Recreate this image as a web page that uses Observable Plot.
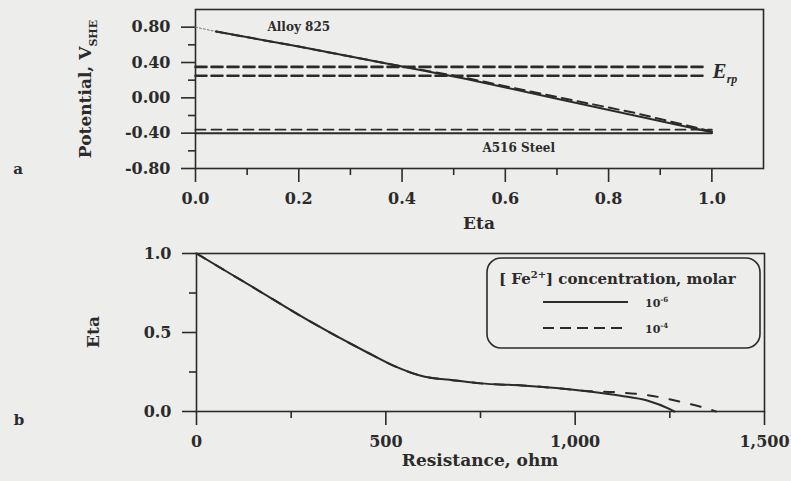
<!DOCTYPE html>
<html>
<head>
<meta charset="utf-8">
<script src="https://cdn.jsdelivr.net/npm/d3@7"></script>
<script src="https://cdn.jsdelivr.net/npm/@observablehq/plot@0.6"></script>
<style>
  html, body { margin: 0; padding: 0; background: #ededeb; }
  #wrap { position: relative; width: 791px; height: 481px; overflow: hidden; }
  #wrap > svg { position: absolute; left: 0; }
</style>
</head>
<body>
<div id="wrap"></div>
<script>
// ---------- Panel a: Potential vs Eta ----------
const etaAlloy        = [0.04, 0.20, 0.36, 0.52, 0.70, 0.85, 1.00];
const potAlloySolid   = [0.75, 0.58, 0.40, 0.22, -0.01, -0.20, -0.39];
const potAlloyDashed  = [0.75, 0.58, 0.40, 0.23, 0.01, -0.17, -0.38];
const etaLead         = [0.00, 0.04];
const potLead         = [0.80, 0.75];
const etaErp          = [0.00, 0.985];
const potErpUpper     = 0.35;
const potErpLower     = 0.25;
const etaSteel        = [0.00, 1.00];
const potSteelDashed  = -0.36;
const potSteelSolid   = -0.40;
const etaMajorTicks   = [0, 0.2, 0.4, 0.6, 0.8, 1.0];
const etaMinorTicks   = [0.1, 0.3, 0.5, 0.7, 0.9];
const potMajorTicks   = [-0.8, -0.4, 0, 0.4, 0.8];
const potMinorTicks   = [-0.6, -0.2, 0.2, 0.6];
const labelsA         = ["Alloy 825", "A516 Steel"];
const labelEtaA       = [0.20, 0.626];
const labelPotA       = [0.80, -0.57];

// ---------- Panel b: Eta vs Resistance ----------
const resSolid   = [0, 150, 300, 450, 520, 590, 690, 750, 860, 950, 1030, 1120, 1190, 1250, 1262];
const etaSolid   = [1.0, 0.785, 0.57, 0.375, 0.29, 0.228, 0.195, 0.178, 0.165, 0.148, 0.128, 0.10, 0.07, 0.015, 0];
const resDashed  = [0, 150, 300, 450, 520, 590, 690, 750, 860, 950, 1030, 1110, 1200, 1280, 1360, 1372];
const etaDashed  = [1.0, 0.785, 0.57, 0.375, 0.29, 0.228, 0.195, 0.178, 0.165, 0.148, 0.13, 0.122, 0.10, 0.06, 0.01, 0];
const resMajorTicks = [0, 500, 1000, 1500];
const resMinorTicks = [250, 750, 1250];
const etaBMajorTicks = [0, 0.5, 1.0];
const etaBMinorTicks = [0.25, 0.75];
const legendLabels = ["10", "10"];
const legendExps   = ["-6", "-4"];

const ink = "#2b2b2b";
const baseStyle = {
  background: "transparent",
  fontFamily: "DejaVu Serif",
  fontWeight: "bold",
  fontSize: "16px",
  color: ink,
  overflow: "visible"
};

const zip = (xs, ys) => xs.map((x, i) => ({x, y: ys[i]}));
const flat = (xs, v) => xs.map(x => ({x, y: v}));

const chartA = Plot.plot({
  width: 791, height: 240,
  marginLeft: 195, marginRight: 28, marginTop: 9, marginBottom: 72,
  x: {domain: [0, 1.1]},
  y: {domain: [-0.8, 1.0]},
  style: baseStyle,
  marks: [
    Plot.frame({stroke: ink, strokeWidth: 1.6}),
    Plot.axisX(etaMajorTicks, {tickSize: 14, tickPadding: 10, tickFormat: d => d.toFixed(1), label: null, stroke: ink, strokeWidth: 1.6}),
    Plot.axisX(etaMinorTicks, {tickSize: 7, tickFormat: () => "", label: null, stroke: ink, strokeWidth: 1.6}),
    Plot.axisY(potMajorTicks, {tickSize: 14, tickPadding: 11, tickFormat: d => d.toFixed(2), label: null, stroke: ink, strokeWidth: 1.6}),
    Plot.axisY(potMinorTicks, {tickSize: 7, tickFormat: () => "", label: null, stroke: ink, strokeWidth: 1.6}),
    Plot.line(zip(etaLead, potLead), {x: "x", y: "y", stroke: "#777", strokeWidth: 1, strokeDasharray: "2,2"}),
    Plot.line(flat(etaErp, potErpUpper), {x: "x", y: "y", stroke: ink, strokeWidth: 2.6, strokeDasharray: "11,5"}),
    Plot.line(flat(etaErp, potErpLower), {x: "x", y: "y", stroke: ink, strokeWidth: 2.6, strokeDasharray: "11,5"}),
    Plot.line(flat(etaSteel, potSteelDashed), {x: "x", y: "y", stroke: ink, strokeWidth: 1.8, strokeDasharray: "10,6"}),
    Plot.line(flat(etaSteel, potSteelSolid), {x: "x", y: "y", stroke: ink, strokeWidth: 2}),
    Plot.line(zip(etaAlloy, potAlloyDashed), {x: "x", y: "y", stroke: ink, strokeWidth: 2, strokeDasharray: "10,6"}),
    Plot.line(zip(etaAlloy, potAlloySolid), {x: "x", y: "y", stroke: ink, strokeWidth: 2}),
    Plot.text(labelsA.map((t, i) => ({t, x: labelEtaA[i], y: labelPotA[i]})), {x: "x", y: "y", text: "t", fontSize: 12, fontWeight: "bold", fill: ink})
  ]
});

const chartB = Plot.plot({
  width: 791, height: 241,
  marginLeft: 196, marginRight: 27, marginTop: 13, marginBottom: 70,
  x: {domain: [0, 1500]},
  y: {domain: [0, 1]},
  style: baseStyle,
  marks: [
    Plot.frame({stroke: ink, strokeWidth: 1.6}),
    Plot.axisX(resMajorTicks, {tickSize: 14, tickPadding: 10, tickFormat: d3.format(","), label: null, stroke: ink, strokeWidth: 1.6}),
    Plot.axisX(resMinorTicks, {tickSize: 7, tickFormat: () => "", label: null, stroke: ink, strokeWidth: 1.6}),
    Plot.axisY(etaBMajorTicks, {tickSize: 14, tickPadding: 11, tickFormat: d => d.toFixed(1), label: null, stroke: ink, strokeWidth: 1.6}),
    Plot.axisY(etaBMinorTicks, {tickSize: 7, tickFormat: () => "", label: null, stroke: ink, strokeWidth: 1.6}),
    Plot.line(zip(resDashed, etaDashed), {x: "x", y: "y", stroke: ink, strokeWidth: 2, strokeDasharray: "10,12", curve: "monotone-x"}),
    Plot.line(zip(resSolid, etaSolid), {x: "x", y: "y", stroke: ink, strokeWidth: 2, curve: "monotone-x"})
  ]
});

const wrap = document.getElementById("wrap");
chartA.style.top = "0px";
chartB.style.top = "240px";
wrap.appendChild(chartA);
wrap.appendChild(chartB);

// ---------- overlay: titles, panel letters, E_rp, legend ----------
const ov = d3.select(wrap).append("svg")
  .attr("width", 791).attr("height", 481)
  .style("top", "0px")
  .attr("font-family", "DejaVu Serif")
  .attr("font-weight", "bold")
  .attr("fill", ink);

// panel letters
ov.append("text").attr("x", 18).attr("y", 174).attr("text-anchor", "middle").attr("font-size", 15).text("a");
ov.append("text").attr("x", 19).attr("y", 425).attr("text-anchor", "middle").attr("font-size", 15).text("b");

// y title panel a
const ty = ov.append("text").attr("transform", "translate(91,89) rotate(-90)").attr("text-anchor", "middle").attr("font-size", 17);
ty.append("tspan").text("Potential, V");
ty.append("tspan").attr("font-size", 11).attr("dy", 6).text("SHE");

// x title panel a
ov.append("text").attr("x", 479).attr("y", 229).attr("text-anchor", "middle").attr("font-size", 17).text("Eta");

// y title panel b
ov.append("text").attr("transform", "translate(99,332) rotate(-90)").attr("text-anchor", "middle").attr("font-size", 17).text("Eta");

// x title panel b
ov.append("text").attr("x", 480).attr("y", 466).attr("text-anchor", "middle").attr("font-size", 17).text("Resistance, ohm");

// E_rp label next to the Erp lines
const sxA = chartA.scale("x"), syA = chartA.scale("y");
const erp = ov.append("text")
  .attr("x", sxA.apply(etaErp[1]) + 9)
  .attr("y", syA.apply((potErpUpper + potErpLower) / 2) + 7)
  .attr("font-family", "Liberation Serif").attr("font-style", "italic").attr("font-size", 21);
erp.append("tspan").text("E");
erp.append("tspan").attr("font-size", 12).attr("dy", 5).text("rp");

// legend
const lg = ov.append("g");
lg.append("rect").attr("x", 487).attr("y", 258).attr("width", 273).attr("height", 90)
  .attr("rx", 14).attr("fill", "none").attr("stroke", ink).attr("stroke-width", 1.6);
const lt = lg.append("text").attr("x", 499).attr("y", 284).attr("font-size", 15);
lt.append("tspan").text("[ Fe");
lt.append("tspan").attr("font-size", 10).attr("dy", -6).text("2+");
lt.append("tspan").attr("dy", 6).text("] concentration, molar");
const dashes = [null, "11,6"];
[302, 328].forEach((yy, i) => {
  lg.append("line").attr("x1", 543).attr("x2", 628).attr("y1", yy).attr("y2", yy)
    .attr("stroke", ink).attr("stroke-width", 2).attr("stroke-dasharray", dashes[i]);
  const t = lg.append("text").attr("x", 645).attr("y", yy + 5).attr("font-size", 11);
  t.append("tspan").text(legendLabels[i]);
  t.append("tspan").attr("font-size", 7).attr("dy", -5).text(legendExps[i]);
});
</script>
</body>
</html>
